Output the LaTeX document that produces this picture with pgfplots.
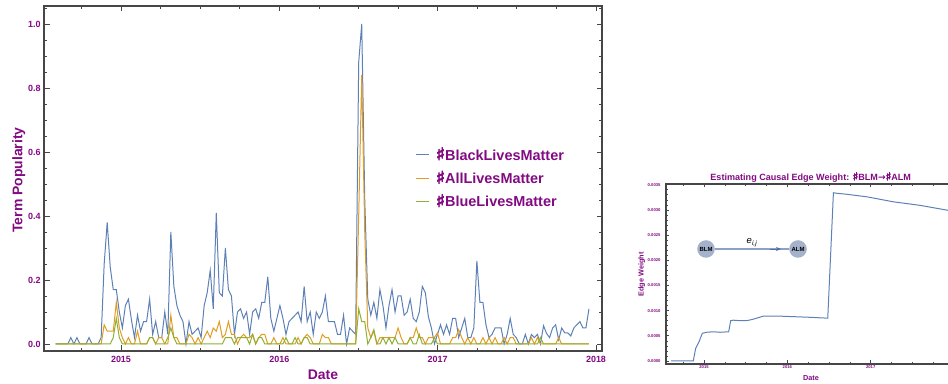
\documentclass[border=0pt]{standalone}
\usepackage{pgfplots}
\pgfplotsset{compat=1.18}
\usepackage{pgfplotstable}
\usepackage{fontspec}
\setmainfont{Liberation Sans}
\newfontfamily\symfont{DejaVu Sans}
\usetikzlibrary{arrows.meta}
\definecolor{mpurple}{RGB}{130,10,130}
\definecolor{mblue}{RGB}{94,129,181}
\definecolor{morange}{RGB}{225,156,36}
\definecolor{mgreen}{RGB}{143,176,50}
\definecolor{frameg}{RGB}{70,70,70}
\definecolor{nodefill}{RGB}{165,178,203}
\definecolor{edgeline}{RGB}{140,160,200}
\definecolor{edgehead}{RGB}{80,110,170}
\newcommand{\sh}{\scalebox{1.3}[1.2]{\special{pdf:literal direct 2 Tr 0.55 w}\symfont ♯\special{pdf:literal direct 0 Tr}}}
\newcommand{\shs}{\scalebox{1.3}[1.2]{\special{pdf:literal direct 2 Tr 0.35 w}\symfont ♯\special{pdf:literal direct 0 Tr}}}
\newcommand{\arr}{{\symfont\bfseries →}}

\pgfplotstableread{
w b a g
0 0 0 0
1 0 0 0
2 0 0 0
3 0 0 0
4 0 0 0
5 0.02 0 0
6 0 0 0
7 0.02 0 0
8 0 0 0
9 0 0 0
10 0 0 0
11 0.02 0 0
12 0 0 0
13 0 0 0
14 0 0 0
15 0.02 0 0
16 0.25 0.06 0
17 0.38 0.04 0
18 0.24 0.04 0
19 0.17 0.04 0.02
20 0.17 0.13 0.08
21 0.10 0.05 0.02
22 0.05 0.02 0
23 0.12 0 0
24 0.14 0.02 0
25 0.075 0 0
26 0.02 0 0
27 0.09 0.04 0
28 0.04 0 0
29 0.07 0 0
30 0.07 0 0
31 0.14 0.02 0.02
32 0.03 0.02 0.02
33 0.07 0 0
34 0.02 0.02 0
35 0.02 0.02 0
36 0.10 0 0
37 0.03 0 0.02
38 0.35 0.09 0.05
39 0.18 0.02 0.02
40 0.12 0.02 0
41 0.09 0 0
42 0.07 0 0
43 0.0 0 0
44 0.07 0.03 0
45 0.03 0.02 0
46 0.04 0 0
47 0.05 0.02 0
48 0.02 0 0
49 0.12 0.02 0
50 0.16 0.04 0
51 0.23 0.02 0
52 0.11 0.05 0
53 0.41 0.04 0
54 0.16 0.07 0
55 0.15 0.02 0
56 0.30 0.03 0.02
57 0.17 0.07 0.02
58 0.15 0.03 0.02
59 0.03 0.03 0
60 0.10 0 0.02
61 0.11 0.02 0.02
62 0.08 0.03 0.02
63 0.10 0.02 0.02
64 0.03 0.02 0
65 0.10 0.03 0.03
66 0.11 0 0
67 0.08 0.02 0.02
68 0.13 0.03 0.02
69 0.13 0.03 0
70 0.21 0 0
71 0.08 0 0
72 0.04 0.02 0
73 0.08 0 0
74 0.12 0 0
75 0.08 0.02 0
76 0.03 0 0.02
77 0.07 0 0
78 0.08 0 0
79 0.09 0 0.02
80 0.10 0.02 0
81 0.07 0 0
82 0.18 0.02 0.02
83 0.07 0.03 0.02
84 0.10 0.02 0
85 0.03 0 0
86 0.10 0 0
87 0.08 0 0
88 0.10 0.03 0
89 0.15 0.02 0
90 0.07 0.02 0
91 0.07 0 0
92 0.07 0 0
93 0.03 0 0
94 0.03 0 0
95 0.09 0 0
96 0.0 0 0
97 0.05 0 0
98 0.04 0 0
99 0.03 0 0
100 0.88 0.40 0.11
101 1.0 0.84 0.07
102 0.45 0.35 0.07
103 0.14 0.05 0
104 0.09 0.02 0.02
105 0.13 0.04 0.045
106 0.08 0 0
107 0.17 0.02 0
108 0.12 0.02 0.02
109 0.05 0.02 0
110 0.12 0.02 0.02
111 0.17 0.02 0
112 0.10 0.02 0.02
113 0.15 0.05 0
114 0.15 0.02 0
115 0.09 0 0
116 0.10 0 0
117 0.14 0.02 0.02
118 0.08 0.02 0
119 0.07 0.05 0
120 0.10 0.02 0.03
121 0.18 0.02 0
122 0.16 0 0
123 0.085 0.02 0
124 0.05 0.02 0
125 0.0 0.02 0.02
126 0.03 0.035 0
127 0.06 0 0
128 0.03 0 0
129 0.06 0 0
130 0.03 0 0
131 0.08 0.02 0
132 0.08 0.02 0
133 0.02 0.045 0
134 0.05 0.02 0
135 0.08 0 0
136 0.02 0.02 0
137 0.02 0 0
138 0.05 0.02 0
139 0.26 0 0
140 0.13 0 0
141 0.13 0.02 0
142 0.06 0 0
143 0.02 0.02 0
144 0.03 0 0
145 0.05 0.02 0
146 0.05 0 0
147 0.05 0 0
148 0.0 0.02 0
149 0.03 0 0
150 0.08 0.02 0
151 0.03 0.02 0
152 0.02 0 0
153 0.0 0 0
154 0.0 0 0
155 0.03 0 0
156 0.0 0 0
157 0.03 0.02 0
158 0.02 0 0
159 0.03 0.02 0
160 0.0 0 0.02
161 0.057 0 0
162 0.033 0 0
163 0.02 0 0
164 0.05 0 0
165 0.06 0 0
166 0.013 0.02 0
167 0.05 0 0
168 0.035 0 0
169 0.035 0 0
170 0.025 0 0
171 0.05 0 0
172 0.06 0 0
173 0.07 0 0
174 0.05 0 0
175 0.05 0 0
176 0.11 0 0
}\hashtags

\pgfplotstableread{
t e
2014.604 0
2014.871 0
2014.900 0.00025
2014.940 0.00038
2014.980 0.00055
2015.032 0.00057
2015.112 0.00058
2015.192 0.00057
2015.296 0.00058
2015.320 0.00080
2015.352 0.00081
2015.432 0.00080
2015.512 0.00080
2015.592 0.00083
2015.672 0.00087
2015.712 0.00089
2015.912 0.00089
2016.072 0.00088
2016.232 0.00087
2016.485 0.00085
2016.553 0.00334
2016.593 0.00333
2016.713 0.00331
2016.953 0.00326
2017.273 0.00316
2017.593 0.00309
2017.933 0.00299
2018.000 0.00297
}\edgeweight

\begin{document}
\begin{tikzpicture}
% ---------------- left panel ----------------
\begin{axis}[
  at={(44bp,33bp)}, anchor=south west,
  scale only axis, width=558bp, height=345bp,
  xmin=-3.861, xmax=180.3,
  ymin=-0.0219, ymax=1.05625,
  xtick={21.55,73.8,126.07,178.32},
  xticklabels={2015,2016,2017,2018},
  minor xtick={8.49,34.62,47.68,60.75,86.87,99.94,113.0,139.13,152.2,165.26},
  ytick={0,0.2,0.4,0.6,0.8,1.0},
  yticklabels={0.0,0.2,0.4,0.6,0.8,1.0},
  minor ytick={0.05,0.1,0.15,0.25,0.3,0.35,0.45,0.5,0.55,0.65,0.7,0.75,0.85,0.9,0.95,1.05},
  tick align=inside,
  xtick pos=both, ytick pos=both,
  major tick length=5.5bp, minor tick length=3bp,
  tick style={frameg, line width=0.8bp},
  axis line style={frameg, line width=1.4bp},
  ticklabel style={font=\bfseries\fontsize{9}{9}\selectfont, text=mpurple, inner sep=0pt},
  yticklabel style={xshift=-3.3bp},
  xticklabel style={yshift=-4.8bp},
  xlabel={Date},
  ylabel={Term Popularity},
  label style={font=\bfseries\fontsize{14}{14}\selectfont, text=mpurple, inner sep=0pt},
  xlabel style={at={(axis description cs:0.5,-0.0696)}, anchor=center},
  ylabel style={at={(axis description cs:-0.0453,0.4957)}, anchor=center, rotate=0},
  legend style={at={(axis description cs:0.6649,0.5006)}, anchor=west,
    draw=none, fill=none, inner sep=0pt, outer sep=0pt,
    font=\bfseries\fontsize{14.5}{14.5}\selectfont, text=mpurple,
    row sep=12.9bp, column sep=7bp,
    nodes={inner sep=0pt, text height=10.5bp, text depth=0bp}},
  legend cell align=left,
  legend image code/.code={\draw[#1] (0bp,0bp) -- (13bp,0bp);},
]
\addplot[mblue, line width=1bp] table[x=w, y=b] {\hashtags};
\addlegendentry{\sh BlackLivesMatter}
\addplot[morange, line width=1bp] table[x=w, y=a] {\hashtags};
\addlegendentry{\sh AllLivesMatter}
\addplot[mgreen, line width=1bp] table[x=w, y=g] {\hashtags};
\addlegendentry{\sh BlueLivesMatter}
\end{axis}

% ---------------- right panel ----------------
\begin{axis}[
  at={(666bp,20bp)}, anchor=south west,
  scale only axis, width=292bp, height=180bp,
  xmin=2014.544, xmax=2018.048,
  ymin=-0.00006, ymax=0.003514,
  scaled y ticks=false, scaled x ticks=false,
  xtick={2015,2016,2017,2018},
  xticklabels={2015,2016,2017,{}},
  minor xtick={2014.75,2015.25,2015.5,2015.75,2016.25,2016.5,2016.75,2017.25,2017.5,2017.75},
  ytick={0,0.0005,0.001,0.0015,0.002,0.0025,0.003,0.0035},
  yticklabels={0.0000,0.0005,0.0010,0.0015,0.0020,0.0025,0.0030,0.0035},
  minor y tick num=4,
  tick align=inside,
  xtick pos=both, ytick pos=both,
  major tick length=3.5bp, minor tick length=1.8bp,
  tick style={frameg, line width=0.6bp},
  axis line style={frameg, line width=1.1bp},
  ticklabel style={font=\bfseries\fontsize{4.2}{4.2}\selectfont, text=mpurple, inner sep=0pt},
  yticklabel style={xshift=-5.3bp},
  xticklabel style={yshift=-0.9bp},
  xlabel={Date},
  ylabel={Edge Weight},
  label style={font=\bfseries\fontsize{7.3}{7.3}\selectfont, text=mpurple, inner sep=0pt},
  xlabel style={at={(axis description cs:0.4966,-0.0778)}, anchor=center},
  ylabel style={at={(axis description cs:-0.0832,0.498)}, anchor=center, rotate=0},
  every axis title shift=0pt,
  title={Estimating Causal Edge Weight: \shs BLM\arr\shs ALM},
  title style={at={(axis description cs:0.4955,1.037)}, anchor=center,
    font=\bfseries\fontsize{9.1}{9.1}\selectfont, text=mpurple, inner sep=0pt},
]
\addplot[mblue, line width=1bp] table[x=t, y=e] {\edgeweight};
\end{axis}

% inset network diagram
\draw[edgeline, line width=1.2bp] (715bp,135bp) -- (789bp,135bp);
\draw[edgehead, line width=0.6bp, -{Stealth[length=5bp,width=4bp]}] (770bp,135bp) -- (781bp,135bp);
\fill[nodefill] (706bp,135bp) circle (8.8bp);
\fill[nodefill] (798bp,135bp) circle (8.8bp);
\node[font=\bfseries\fontsize{6}{6}\selectfont, inner sep=0pt] at (706bp,135bp) {BLM};
\node[font=\bfseries\fontsize{6}{6}\selectfont, inner sep=0pt] at (798bp,135bp) {ALM};
\node[font=\itshape\fontsize{9.5}{9.5}\selectfont, inner sep=0pt] at (752bp,141.5bp) {e\textsubscript{i,j}};

\pgfresetboundingbox
\useasboundingbox (0bp,0bp) rectangle (948bp,384bp);
\end{tikzpicture}
\end{document}
